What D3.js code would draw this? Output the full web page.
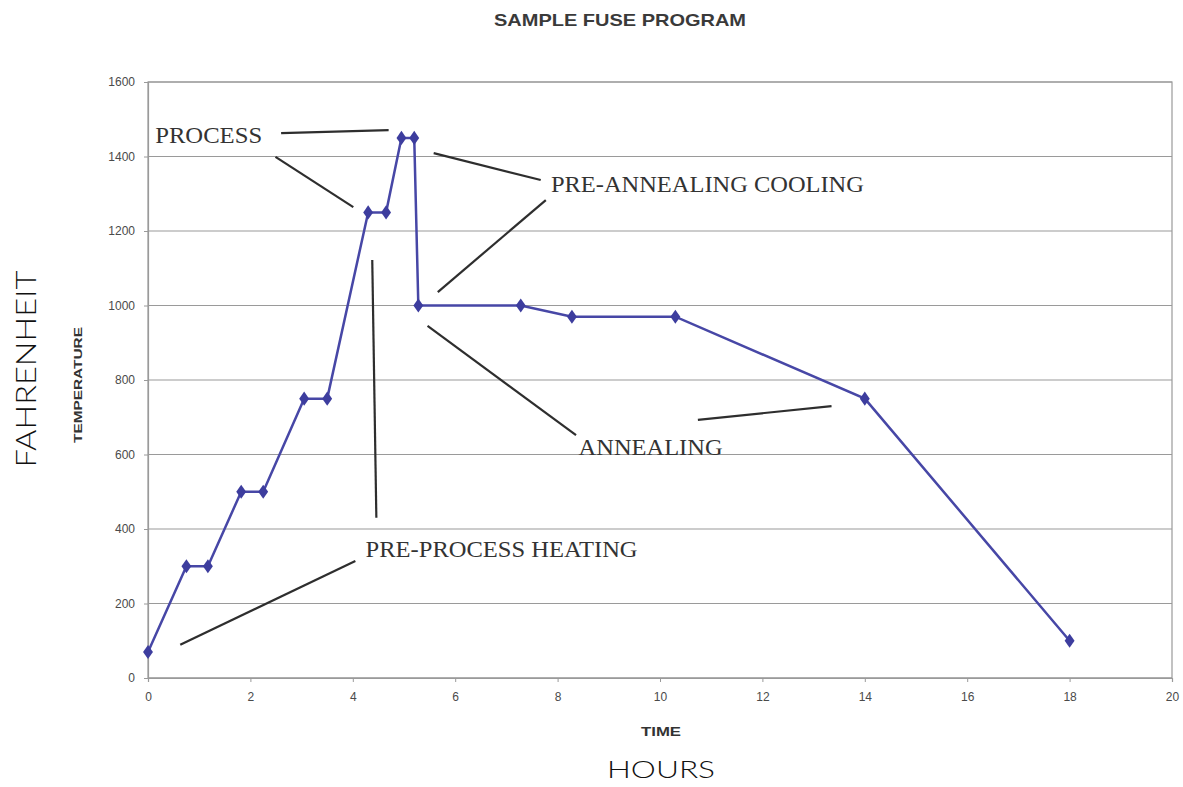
<!DOCTYPE html>
<html>
<head>
<meta charset="utf-8">
<script src="https://cdn.jsdelivr.net/npm/d3@7"></script>
<style>
  body { margin: 0; background: #fff; }
  .tick text { font-family: Arial, "Liberation Sans", sans-serif; font-size: 12px; fill: #4a4a4a; }
  .note { font-family: "Liberation Serif", "Times New Roman", serif; font-size: 24px; fill: #333; }
</style>
</head>
<body>
<div id="chart"></div>
<script>
// time (hours) and temperature (F) of each program step
const hours = [0, 0.75, 1.17, 1.82, 2.25, 3.05, 3.5, 4.3, 4.65, 4.95, 5.2, 5.28, 7.28, 8.28, 10.3, 14, 18]
const temps = [70, 300, 300, 500, 500, 750, 750, 1250, 1250, 1450, 1450, 1000, 1000, 970, 970, 750, 100]

const xTicks = [0, 2, 4, 6, 8, 10, 12, 14, 16, 18, 20]
const yTicks = [0, 200, 400, 600, 800, 1000, 1200, 1400, 1600]

// callout labels and their pointer lines, in chart units
const labels = [
  { text: 'PROCESS', h: 0.14, t: 1436, len: 107 },
  { text: 'PRE-ANNEALING COOLING', h: 7.87, t: 1305, len: 313 },
  { text: 'ANNEALING', h: 8.41, t: 599, len: 144 },
  { text: 'PRE-PROCESS HEATING', h: 4.25, t: 325, len: 272 }
]
const pointers = [
  [[2.6, 1463], [4.7, 1471]],
  [[2.49, 1399], [4.01, 1264]],
  [[5.58, 1409], [7.67, 1337]],
  [[7.77, 1283], [5.66, 1036]],
  [[5.46, 945], [8.36, 652]],
  [[10.74, 693], [13.35, 730]],
  [[0.63, 89], [4.05, 314]],
  [[4.38, 1122], [4.46, 430]]
]

const margin = { top: 82, right: 11, bottom: 109, left: 148 }
const width = 1183 - margin.left - margin.right
const height = 787 - margin.top - margin.bottom

const data = hours.map((h, i) => ({ h: h, t: temps[i] }))

var xScale = d3.scaleLinear().domain([0, 20]).range([0, width])
var yScale = d3.scaleLinear().domain([0, 1600]).range([height, 0])

var root = d3.select('#chart').append('svg')
  .attr('width', 1183)
  .attr('height', 787)

root.append('text')
  .attr('x', 620)
  .attr('y', 26)
  .attr('text-anchor', 'middle')
  .attr('textLength', 252)
  .attr('lengthAdjust', 'spacingAndGlyphs')
  .style('font-family', 'Arial, "Liberation Sans", sans-serif')
  .style('font-weight', 'bold')
  .style('font-size', '17px')
  .style('fill', '#3a3a3a')
  .text('SAMPLE FUSE PROGRAM')

var svg = root.append('g')
  .attr('transform', 'translate(' + margin.left + ',' + margin.top + ')')

// gridlines
svg.selectAll('.grid')
  .data(yTicks)
  .enter().append('line')
  .attr('class', 'grid')
  .attr('x1', 0)
  .attr('x2', width)
  .attr('y1', d => yScale(d))
  .attr('y2', d => yScale(d))
  .style('stroke', '#9a9a9a')
  .style('stroke-width', 1.2)

svg.append('rect')
  .attr('width', width)
  .attr('height', height)
  .style('fill', 'none')
  .style('stroke', '#9a9a9a')
  .style('stroke-width', 1.2)

var xAxis = d3.axisBottom(xScale).tickValues(xTicks).tickSize(4).tickPadding(10).tickFormat(d3.format('d'))
var yAxis = d3.axisLeft(yScale).tickValues(yTicks).tickSize(4).tickPadding(9).tickFormat(d3.format('d'))

svg.append('g')
  .attr('transform', 'translate(0,' + height + ')')
  .attr('class', 'x-axis')
  .call(xAxis)

svg.append('g')
  .attr('class', 'y-axis')
  .call(yAxis)

svg.selectAll('.domain').style('stroke', '#9a9a9a').style('stroke-width', 1.2)
svg.selectAll('.tick line').style('stroke', '#9a9a9a')

svg.append('text')
  .attr('x', 513)
  .attr('y', height + 58)
  .attr('text-anchor', 'middle')
  .attr('textLength', 40)
  .attr('lengthAdjust', 'spacingAndGlyphs')
  .style('font-family', 'Arial, "Liberation Sans", sans-serif')
  .style('font-weight', 'bold')
  .style('font-size', '13px')
  .style('fill', '#333')
  .text('TIME')

svg.append('text')
  .attr('transform', 'translate(-66,' + (385 - margin.top) + ') rotate(-90)')
  .attr('text-anchor', 'middle')
  .attr('textLength', 116)
  .attr('lengthAdjust', 'spacingAndGlyphs')
  .style('font-family', 'Arial, "Liberation Sans", sans-serif')
  .style('font-weight', 'bold')
  .style('font-size', '11px')
  .style('fill', '#333')
  .text('TEMPERATURE')

// outer labels
root.append('text')
  .attr('transform', 'translate(36,369) rotate(-90)')
  .attr('text-anchor', 'middle')
  .attr('textLength', 197)
  .attr('lengthAdjust', 'spacingAndGlyphs')
  .style('font-family', 'Lato, "Open Sans", sans-serif')
  .style('font-weight', 300)
  .style('font-size', '27px')
  .style('fill', '#111')
  .text('FAHRENHEIT')

root.append('text')
  .attr('x', 661)
  .attr('y', 778)
  .attr('text-anchor', 'middle')
  .attr('textLength', 108)
  .attr('lengthAdjust', 'spacingAndGlyphs')
  .style('font-family', 'Lato, "Open Sans", sans-serif')
  .style('font-weight', 300)
  .style('font-size', '23px')
  .style('fill', '#111')
  .text('HOURS')

// pointer lines
svg.selectAll('.pointer')
  .data(pointers)
  .enter().append('line')
  .attr('class', 'pointer')
  .attr('x1', d => xScale(d[0][0]))
  .attr('y1', d => yScale(d[0][1]))
  .attr('x2', d => xScale(d[1][0]))
  .attr('y2', d => yScale(d[1][1]))
  .style('stroke', '#2e2e2e')
  .style('stroke-width', 2.2)

svg.selectAll('.note')
  .data(labels)
  .enter().append('text')
  .attr('class', 'note')
  .attr('x', d => xScale(d.h))
  .attr('y', d => yScale(d.t))
  .attr('textLength', d => d.len)
  .attr('lengthAdjust', 'spacingAndGlyphs')
  .text(d => d.text)

// temperature profile
var line = d3.line()
  .x(d => xScale(d.h))
  .y(d => yScale(d.t))

svg.append('path')
  .datum(data)
  .attr('d', line)
  .style('fill', 'none')
  .style('stroke', '#4747a6')
  .style('stroke-width', 2.5)

svg.selectAll('.point')
  .data(data)
  .enter().append('path')
  .attr('class', 'point')
  .attr('d', d3.symbol().type(d3.symbolDiamond).size(70))
  .attr('transform', d => 'translate(' + xScale(d.h) + ',' + yScale(d.t) + ') scale(1.1,0.9)')
  .style('fill', '#3d3d9e')
</script>
</body>
</html>
